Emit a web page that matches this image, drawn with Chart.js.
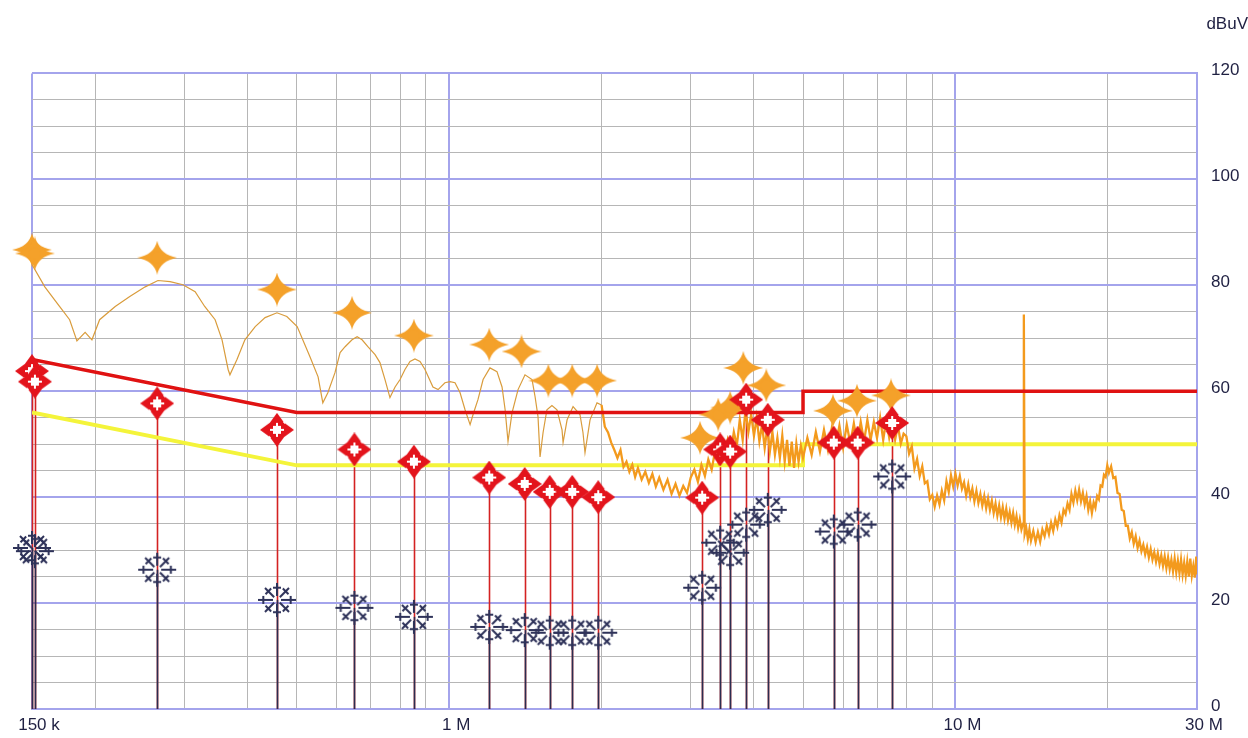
<!DOCTYPE html>
<html>
<head>
<meta charset="utf-8">
<title>Conducted emission scan</title>
<script src="https://cdn.jsdelivr.net/npm/chart.js@4/dist/chart.umd.min.js"></script>
<style>
    body { margin: 0; background: #ffffff; }
    canvas { display: block; }
</style>
</head>
<body>
<canvas id="emiChart" width="1248" height="738"></canvas>
<script>
// frequencies in MHz, levels in dBuV

const xTickFreqs = [0.15, 0.2, 0.3, 0.4, 0.5, 0.6, 0.7, 0.8, 0.9, 1, 2, 3, 4, 5, 6, 7, 8, 9, 10, 20, 30];
const xTickLabels = ['150 k', '', '', '', '', '', '', '', '', '1 M', '', '', '', '', '', '', '', '', '10 M', '', '30 M'];
const xMajorFreqs = [0.15, 1, 10, 30];

const yGridLevels = [0, 5, 10, 15, 20, 25, 30, 35, 40, 45, 50, 55, 60, 65, 70, 75, 80, 85, 90, 95, 100, 105, 110, 115, 120];
const yLabelLevels = [0, 20, 40, 60, 80, 100, 120];

// limit lines (QP / AV)
const limitFreqs = [0.15, 0.5, 5, 5, 30];
const qpLimit = [66, 56, 56, 60, 60];
const avLimit = [56, 46, 46, 50, 50];

// peak markers
const peakFreqs = [0.150, 0.152, 0.265, 0.457, 0.643, 0.852, 1.20, 1.39, 1.57, 1.75, 1.96, 3.13, 3.40, 3.59, 3.81, 4.23, 5.73, 6.39, 7.46];
const peakLevels = [86.7, 86.0, 85.2, 79.2, 74.8, 70.5, 68.8, 67.5, 62.0, 62.0, 62.0, 51.2, 55.6, 56.9, 64.4, 61.1, 56.3, 58.2, 59.2];

// final measurements (quasi-peak and average at the same frequencies)
const measFreqs = [0.150, 0.152, 0.265, 0.457, 0.650, 0.852, 1.20, 1.41, 1.58, 1.75, 1.97, 3.16, 3.43, 3.59, 3.86, 4.26, 5.75, 6.41, 7.50];
const qpLevels = [63.8, 61.8, 57.7, 52.7, 49.0, 46.7, 43.7, 42.5, 41.0, 41.0, 40.0, 39.9, 49.0, 48.6, 58.4, 54.6, 50.3, 50.3, 54.0];
const avLevels = [30.4, 29.8, 26.3, 20.6, 19.1, 17.4, 15.5, 14.9, 14.4, 14.4, 14.4, 22.9, 31.4, 29.5, 34.8, 37.6, 33.5, 34.8, 43.9];

// pre-scan trace, 150 kHz .. 2 MHz
const scanLowFreqs = [0.150, 0.159, 0.170, 0.178, 0.184, 0.191, 0.197, 0.204, 0.219, 0.234, 0.251, 0.266, 0.281, 0.298, 0.315, 0.329, 0.345, 0.356, 0.366, 0.369,
    0.381, 0.395, 0.414, 0.433, 0.457, 0.478, 0.501, 0.531, 0.551, 0.563, 0.576, 0.595, 0.609, 0.623, 0.643, 0.658, 0.673, 0.691, 0.714, 0.730,
    0.747, 0.764, 0.782, 0.800, 0.818, 0.837, 0.856, 0.876, 0.896, 0.929, 0.951, 0.981, 1.004, 1.027, 1.051, 1.075, 1.100, 1.115, 1.140, 1.167,
    1.204, 1.243, 1.272, 1.290, 1.307, 1.331, 1.368, 1.412, 1.458, 1.478, 1.498, 1.512, 1.533, 1.560, 1.596, 1.633, 1.671, 1.679, 1.710, 1.757,
    1.813, 1.838, 1.855, 1.898, 1.959, 2.0];
const scanLowLevels = [83.9, 79.7, 76.0, 73.5, 69.5, 71.1, 69.7, 73.5, 76.0, 77.9, 79.7, 80.9, 80.7, 80.1, 78.8, 76.0, 73.5, 69.7, 64.1, 63.1,
    66.0, 69.7, 72.2, 73.9, 74.8, 74.1, 72.2, 66.5, 62.7, 57.8, 59.7, 63.5, 67.3, 68.4, 69.7, 70.3, 69.7, 68.4, 66.9, 65.4,
    62.2, 58.8, 60.8, 62.2, 64.1, 65.6, 66.1, 65.6, 64.1, 60.8, 60.3, 61.6, 61.8, 61.6, 59.7, 56.5, 53.7, 55.6, 58.4, 62.2,
    64.4, 63.7, 60.8, 56.5, 50.5, 55.9, 60.3, 63.1, 62.2, 59.0, 55.2, 47.6, 52.2, 56.5, 57.3, 56.5, 52.7, 50.3, 54.6, 57.1,
    55.6, 52.2, 48.4, 54.6, 57.8, 57.4];

// pre-scan trace, 2 MHz .. 8 MHz
const scanMidFreqs = [2.0, 2.03, 2.06, 2.09, 2.12, 2.15, 2.18, 2.21, 2.24, 2.27, 2.30, 2.33, 2.36, 2.40, 2.44, 2.48, 2.52, 2.56, 2.60, 2.65,
    2.70, 2.75, 2.80, 2.85, 2.90, 2.95, 3.00,
    3.05, 3.10, 3.15, 3.20, 3.25, 3.30, 3.35, 3.40, 3.45, 3.50, 3.55, 3.60, 3.65, 3.70, 3.75, 3.80, 3.85, 3.90, 3.95, 4.00,
    4.05, 4.10, 4.15, 4.20, 4.25, 4.30, 4.35, 4.40, 4.45, 4.50, 4.55, 4.60, 4.65, 4.70, 4.75, 4.80, 4.85, 4.90, 4.95, 5.00,
    5.1, 5.2, 5.3, 5.4, 5.5, 5.6, 5.7, 5.8, 5.9, 6.0, 6.1, 6.2, 6.3, 6.4, 6.5, 6.6, 6.7, 6.8, 6.9, 7.0, 7.1, 7.2, 7.3, 7.4, 7.5, 7.6, 7.7, 7.8, 7.9];
const scanMidLevels = [57.4, 53.3, 52.2, 50.3, 48.9, 47.4, 48.9, 45.7, 46.7, 44.8, 46.1, 43.8, 45.5, 43.3, 44.8, 42.7, 44.4, 42.0, 43.7, 41.4,
    43.3, 40.6, 42.5, 40.3, 42.1, 40.8, 43.7,
    45.2, 42.9, 46.1, 44.0, 47.1, 45.2, 48.6, 46.7, 49.9, 47.8, 50.8, 48.6, 52.3, 49.7, 54.6, 50.8, 56.5, 52.3, 55.6, 51.6,
    55.0, 50.5, 53.7, 49.3, 53.1, 48.6, 52.3, 48.0, 51.2, 47.4, 51.6, 46.7, 50.8, 45.9, 50.5, 45.5, 50.1, 46.7, 49.7, 47.4,
    51.2, 48.0, 52.3, 48.6, 52.7, 48.9, 53.1, 49.7, 53.5, 49.3, 53.7, 50.1, 53.9, 49.9, 54.2, 50.5, 54.6, 50.8, 54.2, 51.2, 55.0, 50.8, 54.6, 51.2, 53.9, 50.8, 53.5, 50.1, 52.0];

// pre-scan trace, 8 MHz .. 30 MHz
const scanHighFreqs = [8.0, 8.1, 8.2, 8.3, 8.4, 8.5, 8.6, 8.7, 8.8, 8.9,
    9.0, 9.1, 9.2, 9.3, 9.4, 9.5, 9.6, 9.7, 9.8, 9.9,
    10.0, 10.1, 10.2, 10.3, 10.4, 10.5, 10.6, 10.7, 10.8, 10.9,
    11.0, 11.1, 11.2, 11.3, 11.4, 11.5, 11.6, 11.7, 11.8, 11.9,
    12.0, 12.1, 12.2, 12.3, 12.4, 12.5, 12.6, 12.7, 12.8, 12.9,
    13.0, 13.1, 13.2, 13.3, 13.4, 13.5, 13.6, 13.65, 13.7, 13.8, 13.9,
    14.0, 14.1, 14.25, 14.4, 14.55, 14.7, 14.85, 15.0, 15.15, 15.3,
    15.45, 15.6, 15.75, 15.9, 16.05, 16.2, 16.35, 16.5, 16.65, 16.8,
    16.95, 17.1, 17.25, 17.4, 17.55, 17.7, 17.85, 18.0, 18.15, 18.3,
    18.45, 18.6, 18.75, 18.9, 19.05, 19.2, 19.35, 19.5, 19.65, 19.8,
    19.95, 20.1, 20.3, 20.5, 20.7, 20.9, 21.1, 21.3, 21.5, 21.7,
    21.9, 22.1, 22.3, 22.5, 22.7, 22.9, 23.1, 23.3, 23.5, 23.7,
    23.9, 24.1, 24.3, 24.5, 24.7, 24.9, 25.1, 25.3, 25.5, 25.7,
    25.9, 26.1, 26.3, 26.5, 26.7, 26.9, 27.1, 27.3, 27.5, 27.7,
    27.9, 28.1, 28.3, 28.5, 28.7, 28.9, 29.1, 29.3, 29.5, 29.7,
    29.9, 30.0];
const scanHighLevels = [51.5, 48.2, 49.6, 45.4, 47.2, 44.0, 45.8, 42.6, 43.0, 39.6,
    40.4, 38.2, 40.3, 38.6, 41.2, 39.4, 43.0, 41.0, 44.1, 42.0,
    44.4, 42.2, 44.0, 41.6, 42.8, 40.3, 42.4, 40.0, 41.6, 39.2,
    41.2, 38.9, 40.6, 38.4, 40.2, 37.9, 39.8, 37.6, 39.3, 37.0,
    38.8, 36.5, 38.4, 36.2, 38.1, 35.9, 37.8, 35.6, 37.2, 35.2,
    37.0, 34.8, 36.4, 34.2, 35.8, 33.9, 35.0, 74.5, 33.0, 34.2, 32.1,
    33.9, 31.8, 33.6, 31.5, 33.4, 31.6, 33.9, 32.6, 34.6, 33.0,
    35.2, 33.6, 35.8, 34.4, 36.6, 35.2, 37.6, 36.8, 38.8, 37.6,
    40.6, 39.0, 41.2, 39.4, 41.4, 39.2, 40.8, 38.6, 40.2, 37.6,
    39.2, 37.0, 39.0, 38.0, 40.2, 39.6, 42.2, 42.0, 44.2, 43.8,
    46.0, 44.6, 45.8, 43.6, 43.8, 40.8, 40.6, 37.6, 37.4, 34.6,
    34.6, 32.2, 33.4, 31.2, 32.6, 30.4, 31.8, 29.8, 31.0, 29.2,
    30.6, 28.6, 30.2, 28.2, 29.6, 27.8, 29.4, 27.4, 29.0, 27.0,
    28.8, 26.6, 28.6, 26.4, 28.2, 26.0, 28.4, 25.8, 28.0, 25.6,
    28.2, 25.4, 27.6, 25.2, 27.8, 25.0, 28.4, 25.2, 27.0, 24.8,
    28.8, 25.4];

const GRID_MAJOR = '#a4a4ec';
const GRID_MINOR = '#b6b6b6';
const LABEL_COLOR = '#1f2042';
const LABEL_FONT = { family: 'Liberation Sans', size: 17 };

const toPoints = (freqs, levels) => freqs.map((f, i) => ({ x: f, y: levels[i] }));

const makeMarker = (width, height, draw) => {
    const canvas = document.createElement('canvas');
    canvas.width = width;
    canvas.height = height;
    draw(canvas.getContext('2d'), width / 2, height / 2);
    return canvas;
};

// orange four-point star
const peakMark = makeMarker(40, 34, (ctx, cx, cy) => {
    ctx.fillStyle = '#f4a12a';
    ctx.beginPath();
    ctx.moveTo(cx, 0);
    ctx.quadraticCurveTo(cx + 3, cy - 3, 40, cy);
    ctx.quadraticCurveTo(cx + 3, cy + 3, cx, 34);
    ctx.quadraticCurveTo(cx - 3, cy + 3, 0, cy);
    ctx.quadraticCurveTo(cx - 3, cy - 3, cx, 0);
    ctx.fill();
    ctx.beginPath();
    ctx.arc(cx, cy, 6, 0, Math.PI * 2);
    ctx.fill();
});

// red quasi-peak marker: four arrow heads round a hollow centre
const qpMark = makeMarker(34, 34, (ctx) => {
    ctx.fillStyle = '#e3141c';
    ctx.beginPath();
    ctx.moveTo(17, 0); ctx.lineTo(25, 11); ctx.lineTo(9, 11); ctx.closePath();
    ctx.moveTo(17, 34); ctx.lineTo(25, 23); ctx.lineTo(9, 23); ctx.closePath();
    ctx.moveTo(0, 17); ctx.lineTo(11, 9); ctx.lineTo(11, 25); ctx.closePath();
    ctx.moveTo(34, 17); ctx.lineTo(23, 9); ctx.lineTo(23, 25); ctx.closePath();
    ctx.fill();
    ctx.fillRect(10, 10, 14, 14);
    ctx.fillStyle = '#ffffff';
    ctx.fillRect(13, 13, 8, 8);
    ctx.fillRect(16, 10, 2, 14);
    ctx.fillRect(10, 16, 14, 2);
});

// navy average marker: eight spokes with cross bars
const avMark = makeMarker(40, 36, (ctx, cx, cy) => {
    ctx.strokeStyle = '#2e3259';
    ctx.lineWidth = 2;
    for (let k = 0; k < 8; k++) {
        const a = k * Math.PI / 4;
        const r = k % 4 === 0 ? 19 : 17;
        const c = Math.cos(a);
        const s = Math.sin(a);
        ctx.beginPath();
        ctx.moveTo(cx + c * 4, cy + s * 4);
        ctx.lineTo(cx + c * r, cy + s * r);
        const bx = cx + c * r * 0.72;
        const by = cy + s * r * 0.72;
        ctx.moveTo(bx - s * 4, by + c * 4);
        ctx.lineTo(bx + s * 4, by - c * 4);
        ctx.stroke();
    }
});

// vertical lines from the baseline up to each measurement
const stemPlugin = {
    id: 'stems',
    beforeDatasetsDraw(chart) {
        const { ctx, scales: { x, y } } = chart;
        const base = y.getPixelForValue(0);
        const drawStems = (levels, color) => {
            ctx.save();
            ctx.strokeStyle = color;
            ctx.lineWidth = 1.6;
            measFreqs.forEach((f, i) => {
                const px = Math.round(x.getPixelForValue(f)) + 0.5;
                ctx.beginPath();
                ctx.moveTo(px, base);
                ctx.lineTo(px, y.getPixelForValue(levels[i]));
                ctx.stroke();
            });
            ctx.restore();
        };
        drawStems(qpLevels, '#d42222');
        drawStems(avLevels, '#2b2d50');
    }
};

const lineSet = (label, freqs, levels, color, width) => ({
    label,
    data: toPoints(freqs, levels),
    showLine: true,
    borderColor: color,
    borderWidth: width,
    pointRadius: 0,
    tension: 0
});

const markerSet = (label, freqs, levels, style) => ({
    label,
    data: toPoints(freqs, levels),
    pointStyle: style,
    pointRadius: 12,
    clip: false
});

new Chart(document.getElementById('emiChart'), {
    type: 'scatter',
    data: {
        datasets: [
            markerSet('Average', measFreqs, avLevels, avMark),
            markerSet('Quasi-peak', measFreqs, qpLevels, qpMark),
            markerSet('Peak', peakFreqs, peakLevels, peakMark),
            lineSet('QP limit', limitFreqs, qpLimit, '#e01212', 3.5),
            lineSet('Scan', scanMidFreqs.concat(scanHighFreqs), scanMidLevels.concat(scanHighLevels), '#f39a1d', 2.3),
            lineSet('Scan', scanLowFreqs, scanLowLevels, '#d99c3c', 1.2),
            lineSet('AV limit', limitFreqs, avLimit, '#f4f43a', 4)
        ]
    },
    options: {
        responsive: false,
        animation: false,
        events: [],
        layout: { padding: { left: 32, right: 0, top: 0, bottom: 0 } },
        plugins: {
            legend: { display: false },
            tooltip: { enabled: false },
            title: {
                display: true,
                text: 'dBuV',
                align: 'end',
                color: LABEL_COLOR,
                font: { family: 'Liberation Sans', size: 17, weight: 'normal' },
                padding: { top: 14, bottom: 39 }
            }
        },
        scales: {
            x: {
                type: 'logarithmic',
                min: 0.15,
                max: 30,
                afterBuildTicks: (scale) => {
                    scale.ticks = xTickFreqs.map(value => ({ value }));
                },
                afterFit: (scale) => {
                    scale.height = 29;
                },
                ticks: {
                    callback: (value, index) => xTickLabels[index],
                    autoSkip: false,
                    maxRotation: 0,
                    minRotation: 0,
                    padding: 6,
                    labelOffset: 7,
                    color: LABEL_COLOR,
                    font: LABEL_FONT
                },
                grid: {
                    drawTicks: false,
                    color: (ctx) => (ctx.tick && xMajorFreqs.includes(ctx.tick.value) ? GRID_MAJOR : GRID_MINOR),
                    lineWidth: (ctx) => (ctx.tick && xMajorFreqs.includes(ctx.tick.value) ? 2 : 1)
                },
                border: { color: GRID_MAJOR, width: 2 }
            },
            y: {
                position: 'right',
                min: 0,
                max: 120,
                afterBuildTicks: (scale) => {
                    scale.ticks = yGridLevels.map(value => ({ value }));
                },
                afterFit: (scale) => {
                    scale.width = 51;
                },
                ticks: {
                    callback: (value) => (yLabelLevels.includes(value) ? String(value) : ''),
                    autoSkip: false,
                    padding: 14,
                    labelOffset: -3,
                    color: LABEL_COLOR,
                    font: LABEL_FONT
                },
                grid: {
                    drawTicks: false,
                    color: (ctx) => (ctx.tick && yLabelLevels.includes(ctx.tick.value) ? GRID_MAJOR : GRID_MINOR),
                    lineWidth: (ctx) => (ctx.tick && yLabelLevels.includes(ctx.tick.value) ? 2 : 1)
                },
                border: { color: GRID_MAJOR, width: 2 }
            }
        }
    },
    plugins: [stemPlugin]
});
</script>
</body>
</html>
